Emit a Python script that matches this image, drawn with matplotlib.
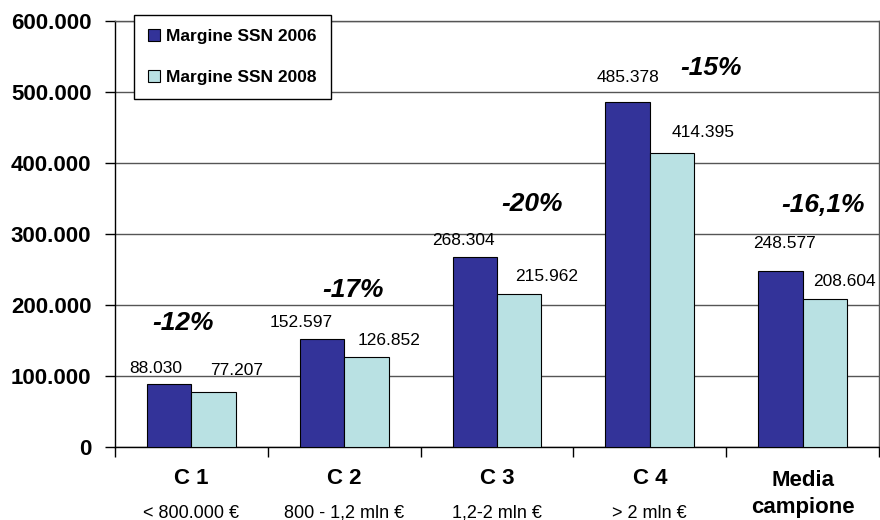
import matplotlib
matplotlib.use("Agg")
import matplotlib.pyplot as plt
from matplotlib.patches import Patch
from matplotlib.ticker import FixedLocator

plt.rcParams["font.family"] = ["Liberation Sans", "DejaVu Sans"]

# Data
categories = ["C 1", "C 2", "C 3", "C 4", "Media\ncampione"]
subtitles = ["< 800.000 €", "800 - 1,2 mln €", "1,2-2 mln €", "> 2 mln €", ""]
margine_2006 = [88030, 152597, 268304, 485378, 248577]
margine_2008 = [77207, 126852, 215962, 414395, 208604]
labels_2006 = ["88.030", "152.597", "268.304", "485.378", "248.577"]
labels_2008 = ["77.207", "126.852", "215.962", "414.395", "208.604"]
variazioni = ["-12%", "-17%", "-20%", "-15%", "-16,1%"]
y_ticks = [0, 100000, 200000, 300000, 400000, 500000, 600000]
y_tick_labels = ["0", "100.000", "200.000", "300.000", "400.000", "500.000", "600.000"]
series_names = ["Margine SSN 2006", "Margine SSN 2008"]

# Label placement (offsets in pixels from the top centre of each bar)
off_2006 = [(-13, 16), (-21, 16), (-11, 16), (0, 25), (4, 27)]
off_2008 = [(23, 22), (23, 16), (27, 17), (31, 20), (20, 17)]
# Percentage label anchors (data coordinates)
var_pos = [(-0.055, 174600), (1.058, 221100), (2.229, 342300),
           (3.401, 533800), (4.134, 340800)]

col_2006 = "#333399"
col_2008 = "#B9E1E3"
grid_col = "#555555"

fig = plt.figure(figsize=(8.8, 5.2), dpi=100)
ax = fig.add_axes([115 / 880, 1 - 447 / 520, 764 / 880, 426 / 520])

x = list(range(len(categories)))
w = 0.29
bars1 = ax.bar([i - w / 2 for i in x], margine_2006, width=w, color=col_2006,
               edgecolor="black", linewidth=0.8, zorder=3)
bars2 = ax.bar([i + w / 2 for i in x], margine_2008, width=w, color=col_2008,
               edgecolor="black", linewidth=0.8, zorder=3)

for bars, labs, offs in ((bars1, labels_2006, off_2006), (bars2, labels_2008, off_2008)):
    for b, lab, (dx, dy) in zip(bars, labs, offs):
        ax.annotate(lab, xy=(b.get_x() + b.get_width() / 2, b.get_height()),
                    xytext=(dx, dy), textcoords="offset pixels",
                    ha="center", va="center", fontsize=12.5, color="black", zorder=5)

for txt, (px, py) in zip(variazioni, var_pos):
    ax.text(px, py, txt, ha="center", va="center", fontsize=19,
            fontweight="bold", fontstyle="italic", zorder=5)

ax.set_xlim(-0.5, len(categories) - 0.5)
ax.set_ylim(0, 600000)

ax.set_yticks(y_ticks)
ax.set_yticklabels(y_tick_labels, fontsize=16, fontweight="bold")
ax.tick_params(axis="y", direction="out", length=7, width=1, pad=10, colors="black")
ax.yaxis.grid(True, color=grid_col, linewidth=1, zorder=0)
ax.set_axisbelow(True)

ax.set_xticks([])
ax.xaxis.set_minor_locator(FixedLocator([i - 0.5 for i in range(len(categories) + 1)]))
ax.tick_params(axis="x", which="minor", direction="out", length=7, width=1, colors="black")

for i, (cat, sub) in enumerate(zip(categories, subtitles)):
    if "\n" in cat:
        first, second = cat.split("\n")
        ax.annotate(first, xy=(i, 0), xycoords=("data", "axes fraction"),
                    xytext=(0, -33), textcoords="offset pixels", ha="center",
                    va="center", fontsize=16, fontweight="bold")
        ax.annotate(second, xy=(i, 0), xycoords=("data", "axes fraction"),
                    xytext=(0, -61), textcoords="offset pixels", ha="center",
                    va="center", fontsize=16, fontweight="bold")
    else:
        ax.annotate(cat, xy=(i, 0), xycoords=("data", "axes fraction"),
                    xytext=(0, -32), textcoords="offset pixels", ha="center",
                    va="center", fontsize=16, fontweight="bold")
    if sub:
        ax.annotate(sub, xy=(i, 0), xycoords=("data", "axes fraction"),
                    xytext=(0, -66), textcoords="offset pixels", ha="center",
                    va="center", fontsize=13)

for side in ("left", "bottom"):
    ax.spines[side].set_color("black")
    ax.spines[side].set_linewidth(1)
for side in ("top", "right"):
    ax.spines[side].set_color(grid_col)
    ax.spines[side].set_linewidth(1)

handles = [Patch(facecolor=col_2006, edgecolor="black", linewidth=0.8),
           Patch(facecolor=col_2008, edgecolor="black", linewidth=0.8)]
leg = ax.legend(handles, series_names, loc="upper left",
                bbox_to_anchor=(134 / 880, 1 - 15 / 520), bbox_transform=fig.transFigure,
                prop={"size": 12.5, "weight": "bold"}, frameon=True, fancybox=False,
                shadow=False, framealpha=1, edgecolor="black", borderpad=0.8,
                labelspacing=1.5, handlelength=0.7, handleheight=0.7,
                handletextpad=0.35, borderaxespad=0)
leg.get_frame().set_linewidth(1)
leg.set_zorder(10)

fig.savefig("out.png", dpi=100)
